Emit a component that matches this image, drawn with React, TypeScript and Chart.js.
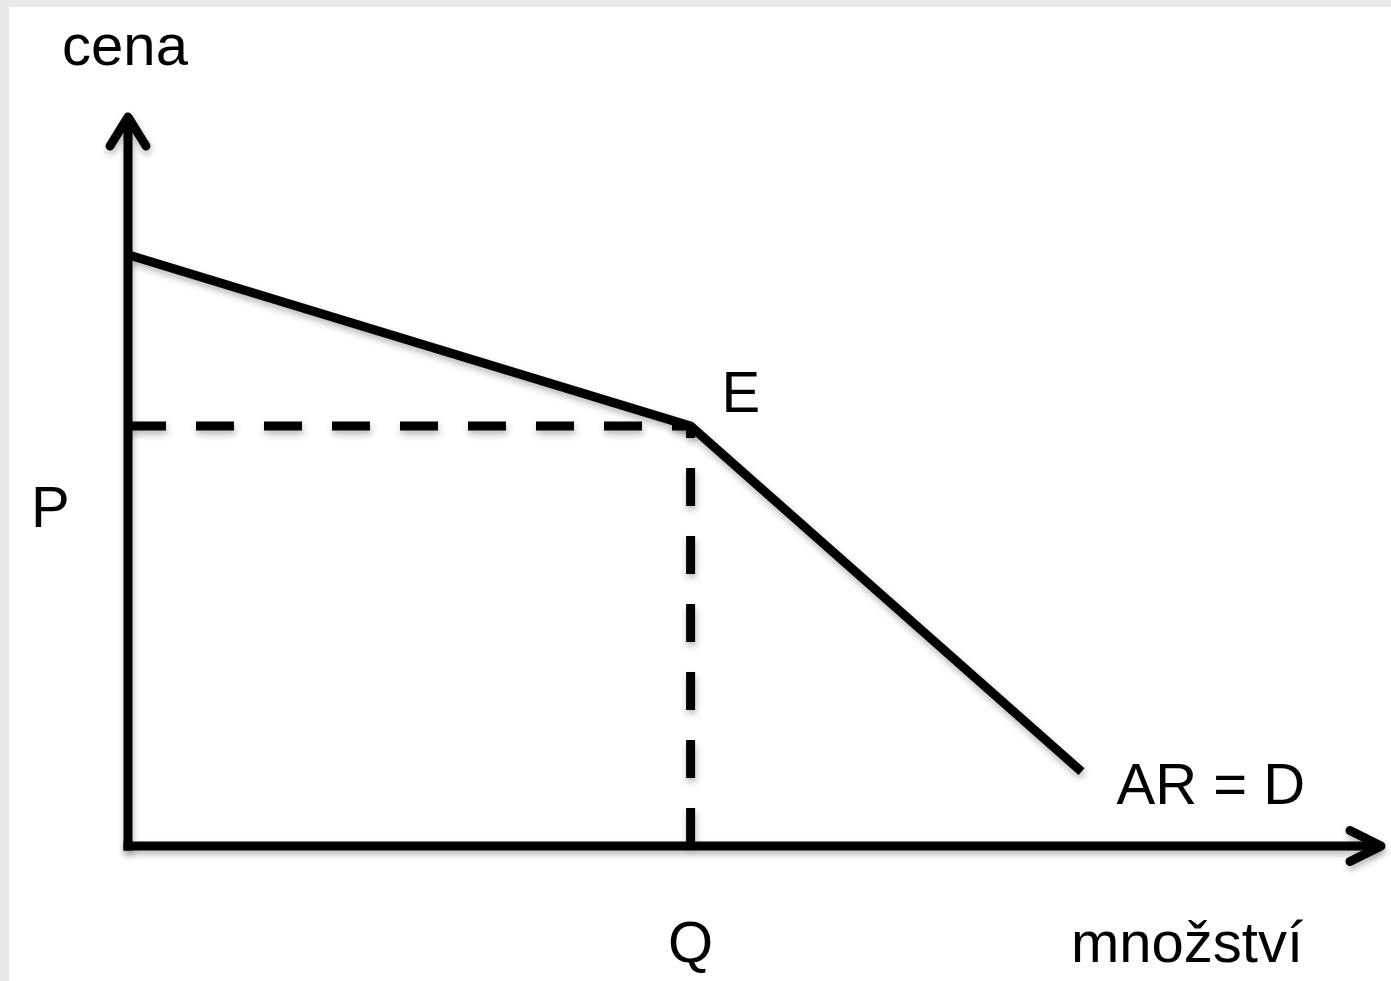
import React, { useEffect, useRef } from "react";
import { Chart, registerables } from "chart.js";

Chart.register(...registerables);

// ---- data ----
const demandQuantity = [0, 44.9, 76.1];
const demandPrice = [81.1, 57.6, 10.2];
const equilibriumQuantity = [44.9];
const equilibriumPrice = [57.6];
const axisRange = [0, 100];
const axisTitles = ["cena", "množství"];
const pointLabels = ["P", "Q", "E", "AR = D"];

const FONT = '58px "Liberation Sans", Arial, Helvetica, sans-serif';

const diagramPlugin = {
  id: "diagram",
  beforeDatasetsDraw(chart: any) {
    const ctx = chart.ctx;
    ctx.save();
    ctx.shadowColor = "rgba(0,0,0,0.28)";
    ctx.shadowBlur = 7;
    ctx.shadowOffsetX = 1;
    ctx.shadowOffsetY = 4;
  },
  afterDatasetsDraw(chart: any) {
    const ctx = chart.ctx;
    const xs = chart.scales.x;
    const ys = chart.scales.y;
    const x0 = xs.getPixelForValue(axisRange[0]);
    const y0 = ys.getPixelForValue(axisRange[0]);
    const xEnd = xs.getPixelForValue(axisRange[1]);
    const yEnd = ys.getPixelForValue(axisRange[1]);

    ctx.strokeStyle = "#000";
    ctx.lineWidth = 9;
    ctx.lineCap = "butt";
    ctx.lineJoin = "miter";
    // axes
    ctx.beginPath();
    ctx.moveTo(x0, y0 + 4.5);
    ctx.lineTo(x0, yEnd + 2);
    ctx.stroke();
    ctx.beginPath();
    ctx.moveTo(x0 - 4.5, y0);
    ctx.lineTo(xEnd - 2, y0);
    ctx.stroke();
    // arrow heads
    ctx.lineCap = "round";
    ctx.lineJoin = "round";
    ctx.beginPath();
    ctx.moveTo(x0 - 18, yEnd + 29);
    ctx.lineTo(x0, yEnd);
    ctx.lineTo(x0 + 18, yEnd + 29);
    ctx.stroke();
    ctx.beginPath();
    ctx.moveTo(xEnd - 31, y0 - 15.5);
    ctx.lineTo(xEnd, y0);
    ctx.lineTo(xEnd - 31, y0 + 15.5);
    ctx.stroke();
    ctx.restore();

    // labels
    const xQ = xs.getPixelForValue(equilibriumQuantity[0]);
    const yP = ys.getPixelForValue(equilibriumPrice[0]);
    const xD = xs.getPixelForValue(demandQuantity[demandQuantity.length - 1]);
    const yD = ys.getPixelForValue(demandPrice[demandPrice.length - 1]);

    ctx.save();
    ctx.font = FONT;
    ctx.fillStyle = "#000";
    ctx.textBaseline = "alphabetic";

    ctx.textAlign = "center";
    ctx.fillText(axisTitles[0], x0 - 3, yEnd - 52);
    ctx.fillText(pointLabels[1], xQ, y0 + 116);

    ctx.textAlign = "left";
    ctx.fillText(pointLabels[0], x0 - 97, yP + 101);
    ctx.fillText(pointLabels[2], xQ + 31, yP - 14);
    ctx.fillText(pointLabels[3], xD + 35, yD + 32);

    ctx.textAlign = "right";
    ctx.fillText(axisTitles[1], xEnd - 78, y0 + 116);
    ctx.restore();
  },
};

export default function App() {
  const canvasRef = useRef<HTMLCanvasElement | null>(null);

  useEffect(() => {
    if (!canvasRef.current) return;
    const demandPoints = demandQuantity.map((q, i) => ({ x: q, y: demandPrice[i] }));
    const horizontal = [
      { x: axisRange[0], y: equilibriumPrice[0] },
      { x: equilibriumQuantity[0], y: equilibriumPrice[0] },
    ];
    const vertical = [
      { x: equilibriumQuantity[0], y: axisRange[0] },
      { x: equilibriumQuantity[0], y: equilibriumPrice[0] },
    ];
    const dashed = {
      borderColor: "#000",
      borderWidth: 9,
      borderDash: [38, 30],
      borderCapStyle: "butt" as const,
      pointRadius: 0,
      tension: 0,
      clip: false as any,
      fill: false,
    };
    const chart = new Chart(canvasRef.current, {
      type: "line",
      data: {
        datasets: [
          { ...dashed, label: "P", data: horizontal },
          { ...dashed, label: "Q", data: vertical },
          {
            label: "AR = D",
            data: demandPoints,
            borderColor: "#000",
            borderWidth: 9,
            borderCapStyle: "butt",
            borderJoinStyle: "miter",
            pointRadius: 0,
            tension: 0,
            clip: false as any,
            fill: false,
          },
        ],
      },
      options: {
        responsive: false,
        animation: false,
        events: [],
        layout: { padding: { left: 128, right: 10, top: 117, bottom: 135 } },
        plugins: {
          legend: { display: false },
          tooltip: { enabled: false },
          title: { display: false },
        },
        scales: {
          x: { type: "linear", min: axisRange[0], max: axisRange[1], display: false },
          y: { type: "linear", min: axisRange[0], max: axisRange[1], display: false },
        },
      },
      plugins: [diagramPlugin],
    });
    return () => chart.destroy();
  }, []);

  return (
    <div
      style={{
        position: "absolute",
        left: 0,
        top: 0,
        width: 1391,
        height: 981,
        background: "#e8e8e8",
        overflow: "hidden",
      }}
    >
      <div
        style={{
          position: "absolute",
          left: 9,
          top: 7,
          right: 0,
          bottom: 0,
          background: "#ffffff",
        }}
      />
      <canvas
        ref={canvasRef}
        width={1391}
        height={981}
        style={{ position: "absolute", left: 0, top: 0, width: 1391, height: 981 }}
      />
    </div>
  );
}
